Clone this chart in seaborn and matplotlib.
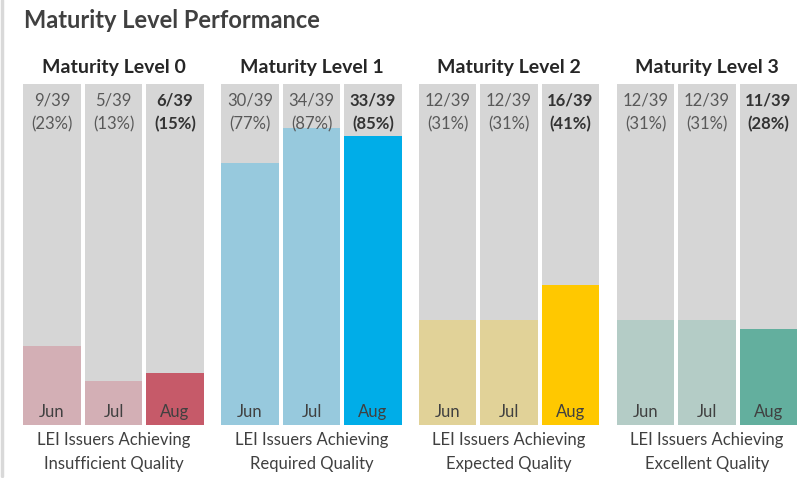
import matplotlib
matplotlib.use("Agg")
import matplotlib.pyplot as plt
import seaborn as sns
import pandas as pd
from matplotlib.lines import Line2D

sns.set_theme(style="white")
plt.rcParams['font.family'] = ['Lato', 'DejaVu Sans']

# ---- data ----
TOTAL = 39
months = ["Jun", "Jul", "Aug"]
levels = ["Maturity Level 0", "Maturity Level 1", "Maturity Level 2", "Maturity Level 3"]
captions = ["LEI Issuers Achieving\nInsufficient Quality",
            "LEI Issuers Achieving\nRequired Quality",
            "LEI Issuers Achieving\nExpected Quality",
            "LEI Issuers Achieving\nExcellent Quality"]
level0 = [9, 5, 6]
level1 = [30, 34, 33]
level2 = [12, 12, 16]
level3 = [12, 12, 11]
counts = [level0, level1, level2, level3]
light_colors = ["#D3AFB5", "#97C9DD", "#E1D298", "#B4CCC6"]
dark_colors = ["#C65A69", "#00ADE8", "#FFC800", "#63AF9E"]
bg_color = "#D6D6D6"

W, H = 809, 478
fig = plt.figure(figsize=(W / 100, H / 100), dpi=100)

# layout in pixels
first_center = [52, 250, 447.5, 645.5]
step = 61.5
top_px, bot_px = 84, 425
span = bot_px - top_px

fig.text(24 / W, 1 - 21 / H, "Maturity Level Performance", fontsize=17, fontweight="bold",
         color="#404040", ha="left", va="center")

fig.add_artist(Line2D([1.5 / W, 1.5 / W], [1 - 476 / H, 1.0], transform=fig.transFigure,
                      color="#D9D9D9", lw=2.5))

for i in range(4):
    left_px = first_center[i] - step * 0.5
    ax = fig.add_axes([left_px / W, 1 - bot_px / H, 3 * step / W, span / H])
    df = pd.DataFrame({"month": months, "count": counts[i], "total": [TOTAL] * 3})
    sns.barplot(data=df, x="month", y="total", color=bg_color, width=0.943,
                saturation=1, ax=ax)
    pal = [light_colors[i], light_colors[i], dark_colors[i]]
    sns.barplot(data=df, x="month", y="count", hue="month", palette=pal, width=0.943,
                saturation=1, legend=False, ax=ax)
    for p in ax.patches:
        p.set_edgecolor("none")
    ax.set_xlim(-0.5, 2.5)
    ax.set_ylim(0, TOTAL)
    ax.axis("off")
    for j, (m, v) in enumerate(zip(months, counts[i])):
        bold = (j == 2)
        col = "#333333" if bold else "#595959"
        fw = "bold" if bold else "normal"
        pct = round(100 * v / TOTAL)
        ax.text(j, TOTAL - 16 / span * TOTAL, f"{v}/{TOTAL}", ha="center",
                va="center", fontsize=12, fontweight=fw, color=col)
        ax.text(j, TOTAL - 40 / span * TOTAL, f"({pct}%)", ha="center",
                va="center", fontsize=12, fontweight=fw, color=col)
        ax.text(j, 13 / span * TOTAL, m, ha="center", va="center",
                fontsize=12, color="#404040")
    cx = (left_px + 1.5 * step) / W
    fig.text(cx, 1 - 68 / H, levels[i], ha="center", va="center", fontsize=14,
             fontweight="bold", color="#262626")
    fig.text(cx, 1 - 452 / H, captions[i], ha="center", va="center", fontsize=12,
             color="#404040", linespacing=1.6)

fig.savefig("out.png", dpi=100, facecolor="white")
